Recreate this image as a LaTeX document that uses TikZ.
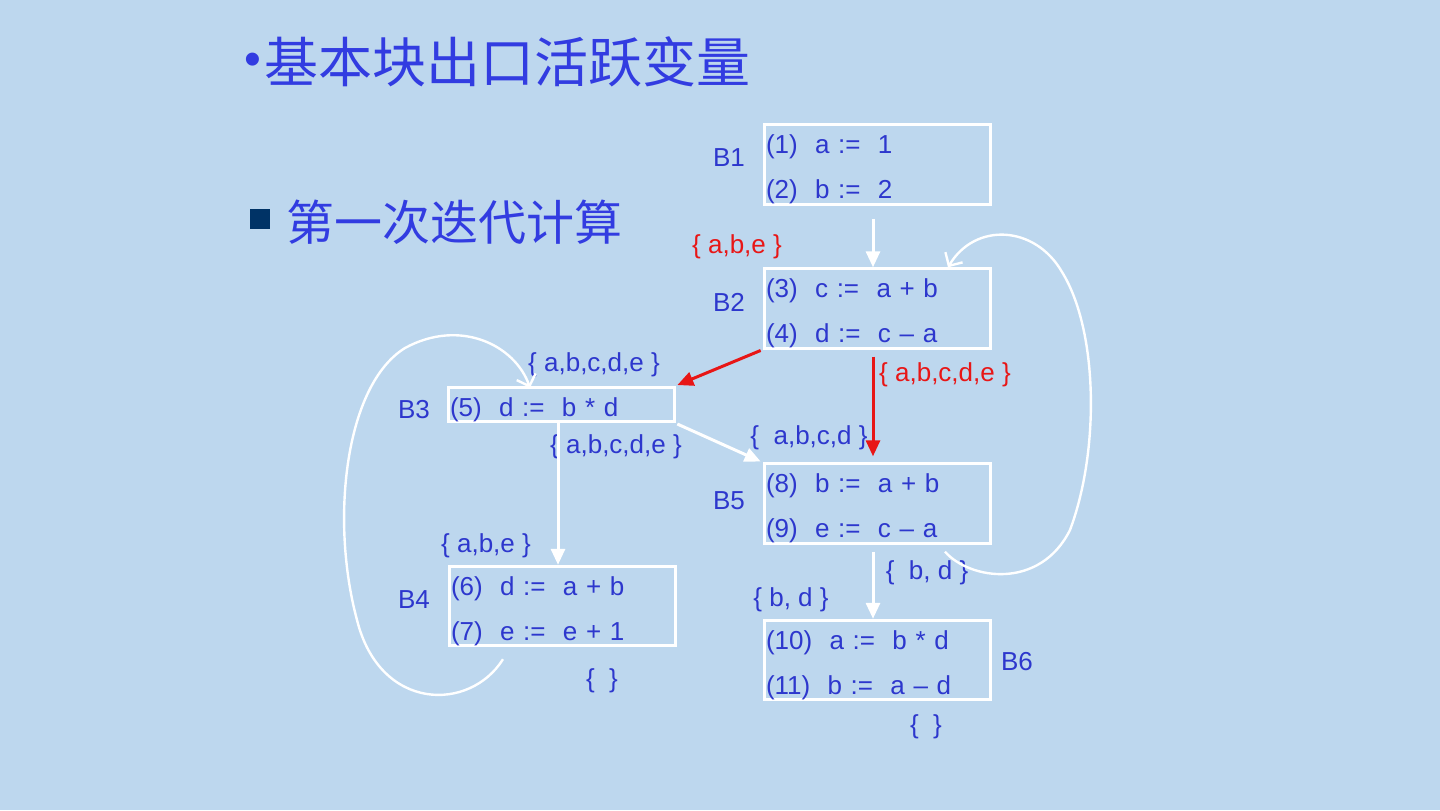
\documentclass[tikz,border=0pt]{standalone}
\usepackage{fontspec}
\setmainfont{Liberation Sans}
\newfontfamily\cjk{Noto Sans CJK SC}
\usetikzlibrary{arrows.meta}
\definecolor{bgblue}{RGB}{189,215,238}
\definecolor{txtblue}{RGB}{45,55,205}
\definecolor{hdblue}{RGB}{50,60,225}
\definecolor{livered}{RGB}{232,22,22}
\definecolor{navy}{RGB}{0,51,102}
\begin{document}
\begin{tikzpicture}[x=0.5pt, y=-0.5pt,
    blk/.style={draw=white, line width=1.5pt, minimum height=39.5pt,
      text width=111pt, align=left, inner xsep=1pt, inner ysep=0pt,
      font=\fontsize{13}{22.5}\selectfont, text=txtblue,
      execute at begin node={\rule{0pt}{14.5pt}}},
    blkname/.style={font=\fontsize{13}{15}\selectfont, text=txtblue},
    lbl/.style={font=\fontsize{13}{15}\selectfont, text=txtblue, inner sep=0pt},
    redlbl/.style={lbl, text=livered},
    warr/.style={-{Triangle[width=7pt,length=8pt]}, white, line width=1.5pt},
    rarr/.style={-{Triangle[width=7pt,length=8pt]}, livered, line width=1.5pt},
    loop/.style={-{Straight Barb[length=5pt,width=10pt]}, white, line width=1.2pt},
  ]
    \useasboundingbox (0,0) rectangle (1440,810);
    \fill[bgblue] (0,0) rectangle (1440,810);

    % Headings
    \node[text=hdblue, font=\fontsize{24}{24}\selectfont] (dot) at (253,64) {•};
    \node[anchor=west, inner sep=0pt, text=hdblue, font=\cjk\fontsize{27}{27}\selectfont]
      (title) at (264,62) {基本块出口活跃变量};
    \node[fill=navy, minimum size=10pt, inner sep=0pt] (sq) at (260,219) {};
    \node[anchor=west, inner sep=0pt, text=hdblue, font=\cjk\fontsize{24}{24}\selectfont]
      (sub) at (286,222) {第一次迭代计算};

    % Blocks
    \node[blk] (b1) at (877,164.5) {(1)\ \ a :=\ \ 1\\(2)\ \ b :=\ \ 2};
    \node[blk] (b2) at (877,308.5) {(3)\ \ c :=\ \ a + b\\(4)\ \ d :=\ \ c -- a};
    \node[blk, minimum height=16.5pt] (b3) at (561,404.5) {(5)\ \ d :=\ \ b * d};
    \node[blk] (b4) at (562,606) {(6)\ \ d :=\ \ a + b\\(7)\ \ e :=\ \ e + 1};
    \node[blk] (b5) at (877,503.5) {(8)\ \ b :=\ \ a + b\\(9)\ \ e :=\ \ c -- a};
    \node[blk] (b6) at (877,660) {(10)\ \ a :=\ \ b * d\\(11)\ \ b :=\ \ a -- d};

    % Block names
    \node[blkname] (n1) at (729,158) {B1};
    \node[blkname] (n2) at (729,302) {B2};
    \node[blkname] (n3) at (414,410) {B3};
    \node[blkname] (n4) at (414,600) {B4};
    \node[blkname] (n5) at (729,501) {B5};
    \node[blkname] (n6) at (1017,662) {B6};

    % Live sets
    \node[redlbl] (l1) at (737,247) {\{ a,b,e \}};
    \node[redlbl] (l2) at (945,375) {\{ a,b,c,d,e \}};
    \node[lbl] (l3) at (594,365) {\{ a,b,c,d,e \}};
    \node[lbl] (l4) at (616,447) {\{ a,b,c,d,e \}};
    \node[lbl] (l5) at (809,438) {\{\ \ a,b,c,d \}};
    \node[lbl] (l6) at (486,546) {\{ a,b,e \}};
    \node[lbl] (l7) at (602,681) {\{\ \ \}};
    \node[lbl] (l8) at (927,573) {\{\ \ b, d \}};
    \node[lbl] (l9) at (791,600) {\{ b, d \}};
    \node[lbl] (l10) at (926,727) {\{\ \ \}};

    % Edges
    \draw[warr, shorten <=6.5pt] ([xshift=-2pt]b1.south) -- ([xshift=-2pt]b2.north);
    \draw[rarr, shorten <=1pt, shorten >=1pt] (b2.south west) -- (b3.north east);
    \draw[rarr, shorten <=3.5pt, shorten >=3pt] ([xshift=-2pt]b2.south) -- ([xshift=-2pt]b5.north);
    \draw[warr, shorten <=1pt, shorten >=1pt] (b3.south east) -- (b5.north west);
    \draw[warr] ([xshift=-1.5pt]b3.south) -- ([xshift=-2pt]b4.north);
    \draw[warr, shorten <=3.5pt] ([xshift=-2pt]b5.south) -- ([xshift=-2pt]b6.north);

    % Back edges
    \coordinate (s5) at ([xshift=34pt, yshift=-3.5pt]b5.south);
    \coordinate (t2) at ([xshift=35.5pt]b2.north);
    \draw[loop] (s5) .. controls (970,580) and (1040,590) .. (1070,530)
      .. controls (1100,450) and (1098,330) .. (1062,272)
      .. controls (1035,225) and (975,222) .. (t2);
    \coordinate (s4) at ([xshift=-29.5pt, yshift=-6pt]b4.south);
    \coordinate (t3) at ([xshift=-15.5pt, yshift=-1pt]b3.north);
    \draw[loop] (s4) .. controls (470,712) and (380,712) .. (357,620)
      .. controls (330,520) and (345,385) .. (405,348)
      .. controls (460,318) and (515,345) .. (t3);
\end{tikzpicture}
\end{document}
